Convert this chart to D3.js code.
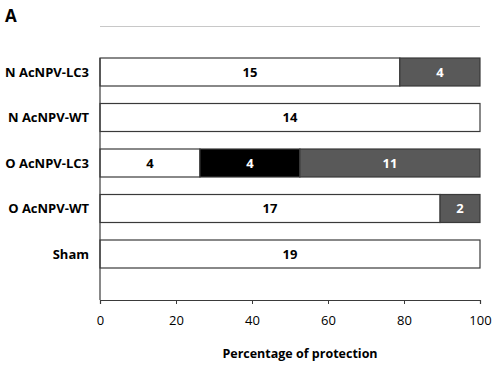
<!DOCTYPE html>
<html>
<head>
<meta charset="utf-8">
<script src="https://cdn.jsdelivr.net/npm/d3@7"></script>
<style>
  body { margin: 0; background: #fff; }
  text { font-family: "Open Sans", "Liberation Sans", sans-serif; }
</style>
</head>
<body>
<svg id="chart" width="499" height="370"></svg>
<script>
// Groups, top to bottom
const groups = ["N AcNPV-LC3", "N AcNPV-WT", "O AcNPV-LC3", "O AcNPV-WT", "Sham"];
// Segment widths (percent) per group, left to right
const segValues = [
  [78.9, 21.1],
  [100],
  [26.3, 26.3, 47.4],
  [89.5, 10.5],
  [100]
];
// Numbers printed inside segments
const segLabels = [
  [15, 4],
  [14],
  [4, 4, 11],
  [17, 2],
  [19]
];
// Segment fill per group
const segColors = [
  ["white", "gray"],
  ["white"],
  ["white", "black", "gray"],
  ["white", "gray"],
  ["white"]
];
const xTicks = [0, 20, 40, 60, 80, 100];

const fills = { white: "#ffffff", black: "#000000", gray: "#595959" };

const svg = d3.select("#chart");
const plotLeft = 100, plotRight = 480, plotTop = 26.5, axisY = 300;
const barH = 28;

let x = d3.scaleLinear().domain([0, 100]).range([plotLeft, plotRight]);
// empty slots above and below so the bars sit between plot edges
let y = d3.scalePoint()
  .domain(["_top", ...groups, "_bottom"])
  .range([plotTop, axisY - 0.5]);

// Panel letter
svg.append("text")
  .attr("x", 5).attr("y", 22)
  .style("font-size", "17px").style("font-weight", "bold")
  .text("A");

// light line at the top of the plot area
svg.append("line")
  .attr("x1", plotLeft).attr("x2", plotRight)
  .attr("y1", plotTop).attr("y2", plotTop)
  .attr("stroke", "#c8c8c8").attr("stroke-width", 1.2);

// Build segments
let segs = [];
groups.forEach((g, i) => {
  let acc = 0;
  segValues[i].forEach((v, j) => {
    segs.push({ group: g, x0: acc, x1: acc + v, label: segLabels[i][j], color: segColors[i][j] });
    acc += v;
  });
});

const bars = svg.append("g").attr("id", "bars");
bars.selectAll("rect")
  .data(segs)
  .enter()
  .append("rect")
  .attr("x", d => x(d.x0))
  .attr("y", d => y(d.group) - barH / 2)
  .attr("width", d => x(d.x1) - x(d.x0))
  .attr("height", barH)
  .style("fill", d => fills[d.color])
  .style("stroke", "#3a3a3a")
  .style("stroke-width", 1.2);

bars.selectAll("text")
  .data(segs)
  .enter()
  .append("text")
  .attr("x", d => (x(d.x0) + x(d.x1)) / 2)
  .attr("y", d => y(d.group))
  .attr("dy", "0.36em")
  .attr("text-anchor", "middle")
  .style("font-size", "13px").style("font-weight", "bold")
  .style("fill", d => d.color === "white" ? "#000" : "#fff")
  .text(d => d.label);

// Y axis
let yAxis = d3.axisLeft(y).tickValues(groups).tickSize(0).tickPadding(11);
const gy = svg.append("g").attr("id", "yAxis")
  .attr("transform", `translate(${plotLeft}, 0)`)
  .call(yAxis);
gy.select(".domain").remove();
gy.selectAll("text")
  .style("font-size", "13px").style("font-weight", "bold")
  .style("font-family", "'Open Sans', sans-serif").attr("fill", "#000");
svg.append("line")
  .attr("x1", plotLeft).attr("x2", plotLeft)
  .attr("y1", y(groups[0]) - barH / 2).attr("y2", axisY)
  .attr("stroke", "#3a3a3a").attr("stroke-width", 1.2);

// X axis
let xAxis = d3.axisBottom(x).tickValues(xTicks).tickSize(4).tickPadding(12).tickSizeOuter(4);
const gx = svg.append("g").attr("id", "xAxis")
  .attr("transform", `translate(0, ${axisY})`)
  .call(xAxis);
gx.select(".domain").attr("stroke", "#3a3a3a").attr("stroke-width", 1.2);
gx.selectAll(".tick line").attr("stroke", "#3a3a3a");
gx.selectAll("text")
  .style("font-size", "13px")
  .style("font-family", "'Open Sans', sans-serif").attr("fill", "#000");

svg.append("text")
  .attr("x", 300).attr("y", 358)
  .attr("text-anchor", "middle")
  .style("font-size", "12.5px").style("font-weight", "bold")
  .text("Percentage of protection");
</script>
</body>
</html>
